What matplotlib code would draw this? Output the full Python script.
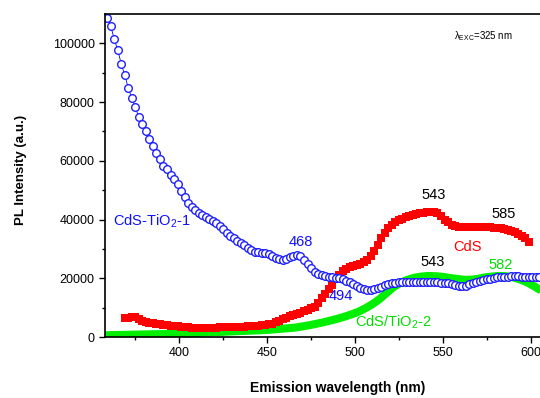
import numpy as np
import matplotlib.pyplot as plt

plt.rcParams['font.family'] = ['Liberation Sans', 'DejaVu Sans']

# CdS-TiO2-1 (blue open circles)
wl_blue = np.arange(359, 607, 2)
pl_blue = [108800, 105800, 101400, 97600, 92900, 89100, 84700, 81300, 78200, 74800,
           72400, 70100, 67300, 65000, 62600, 60500, 58200, 57100, 55100, 53700,
           52000, 49700, 47600, 45500, 44300, 43200, 42200, 41400, 40900, 40300,
           39500, 38700, 37800, 36700, 35400, 34500, 33600, 32800, 32000, 31200,
           30300, 29700, 29100, 28800, 28600, 28500, 28100, 27600, 27000, 26500,
           26200, 26500, 27200, 27700, 27900, 27500, 26300, 25000, 23500, 22200,
           21500, 21100, 20800, 20600, 20400, 20200, 20000, 19700, 19200, 18600,
           17900, 17300, 16800, 16400, 16100, 16000, 16300, 16700, 17100, 17600,
           18000, 18300, 18500, 18600, 18700, 18700, 18700, 18700, 18700, 18700,
           18700, 18700, 18700, 18700, 18600, 18500, 18400, 18300, 18000, 17700,
           17400, 17300, 17500, 17900, 18300, 18600, 19000, 19300, 19600, 19900,
           20100, 20300, 20400, 20500, 20600, 20700, 20700, 20700, 20600, 20500,
           20400, 20400, 20400, 20400]

# CdS (red squares)
wl_red = np.arange(369, 601, 2)
pl_red = [6400, 6600, 6800, 6700, 6000, 5300, 5000, 4800, 4600, 4500,
          4400, 4200, 4000, 3800, 3700, 3600, 3500, 3400, 3300, 3200,
          3200, 3100, 3100, 3100, 3100, 3200, 3200, 3300, 3400, 3400,
          3400, 3400, 3400, 3500, 3500, 3600, 3700, 3800, 3900, 4000,
          4100, 4300, 4500, 5000, 5600, 6000, 6500, 7000, 7400, 7800,
          8200, 8800, 9300, 9800, 10300, 11500, 13200, 14800, 16300, 17800,
          19600, 21200, 22400, 23200, 23700, 24100, 24500, 25000, 25500, 26300,
          27600, 29400, 31500, 33600, 35400, 37000, 38200, 39000, 39700, 40300,
          40800, 41200, 41500, 41800, 42100, 42300, 42500, 42600, 42600, 42300,
          41100, 39800, 39000, 38300, 37800, 37500, 37400, 37300, 37300, 37300,
          37400, 37400, 37400, 37300, 37300, 37200, 37100, 37000, 36700, 36400,
          36100, 35700, 35200, 34500, 33600, 32400]

# CdS/TiO2-2 (green)
wl_green = np.arange(358, 610, 4)
pl_green = [600, 650, 700, 750, 800, 850, 900, 950, 1000, 1050,
            1100, 1200, 1300, 1400, 1500, 1600, 1700, 1800, 1900, 2000,
            2100, 2200, 2300, 2400, 2600, 2800, 3000, 3200, 3600, 4000,
            4500, 5000, 5600, 6200, 6900, 7700, 8600, 9800, 11200, 12900,
            15000, 17000, 18500, 19500, 20200, 20600, 20800, 20700, 20500, 20100,
            19800, 19500, 19500, 19800, 20300, 20600, 20800, 20700, 20300, 19600,
            18600, 17300, 15800]

fig = plt.figure(figsize=(5.4, 3.98), dpi=100)
ax = fig.add_axes([105/540, 61/398, 437/540, 323/398])

ax.plot(wl_green, pl_green, color='#00ee00', linewidth=5.8, solid_capstyle='butt')
ax.plot(wl_red, pl_red, color='#ff0000', linewidth=3.5, marker='s', markersize=5.2,
        markeredgewidth=0)
ax.plot(wl_blue, pl_blue, color='#0000ff', linewidth=0.6, marker='o', markersize=5.5,
        markerfacecolor='white', markeredgecolor='#2020ff', markeredgewidth=1.0)

ax.set_xlim(357.7, 606.5)
ax.set_ylim(0, 110000)
ax.set_xticks([400, 450, 500, 550, 600])
ax.set_xticks(np.arange(375, 610, 25), minor=True)
ax.set_yticks(np.arange(0, 110000, 20000))
ax.set_yticks(np.arange(10000, 110000, 20000), minor=True)
ax.tick_params(labelsize=9, width=1, length=4)
ax.tick_params(which='minor', length=2.5, width=1)
for s in ax.spines.values():
    s.set_linewidth(1.2)

ax.set_ylabel('PL Intensity (a.u.)', fontsize=9.5, fontweight='bold')
ax.yaxis.set_label_coords(-0.178, 0.517)
ax.set_xlabel('Emission wavelength (nm)', fontsize=10, fontweight='bold')
ax.xaxis.set_label_coords(0.533, -0.137)

ax.text(362.3, 39500, 'CdS-TiO$_\\mathregular{2}$-1', color='#1010ff', fontsize=10.5, va='center')
ax.text(469, 32300, '468', color='#1010ff', fontsize=10.5, ha='center', va='center')
ax.text(492, 14000, '494', color='#1010ff', fontsize=10.5, ha='center', va='center')
ax.text(545, 48300, '543', color='black', fontsize=10.5, ha='center', va='center')
ax.text(584.5, 41800, '585', color='black', fontsize=10.5, ha='center', va='center')
ax.text(564, 30600, 'CdS', color='#ff0000', fontsize=10.5, ha='center', va='center')
ax.text(544, 25500, '543', color='black', fontsize=10.5, ha='center', va='center')
ax.text(583, 24500, '582', color='#00dd00', fontsize=10.5, ha='center', va='center')
ax.text(500, 5100, 'CdS/TiO$_\\mathregular{2}$-2', color='#00dd00', fontsize=10.5, va='center')
ax.text(556.5, 102400, '$\\mathregular{\\lambda_{EXC}}$=325 nm', color='black', fontsize=7,
        va='center')

fig.savefig('out.png', dpi=100)
